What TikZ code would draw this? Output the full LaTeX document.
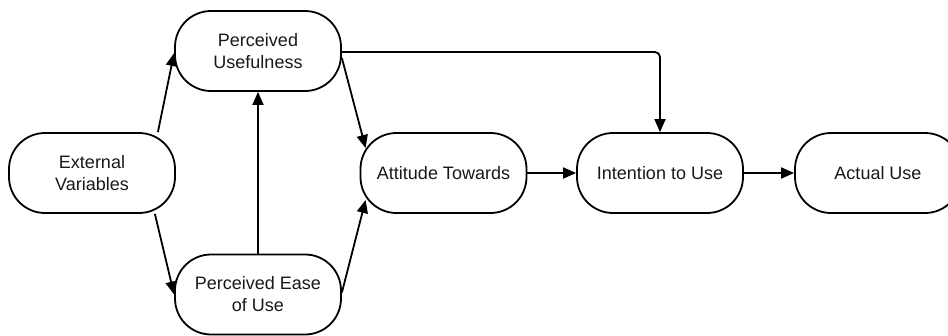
\documentclass[tikz,border=0pt]{standalone}
\usepackage{fontspec}
\setmainfont{Liberation Sans}
\usetikzlibrary{arrows.meta}
\begin{document}
\begin{tikzpicture}[x=1pt,y=-1pt,
  box/.style={draw=black, line width=1.8pt, rounded corners=36pt, minimum width=166pt, minimum height=80pt,
    align=center, inner sep=0pt, font=\fontsize{18}{22}\selectfont, text=black!90},
  arr/.style={draw=black, line width=1.8pt, -{Triangle[length=13pt,width=11pt]}}]
\clip (0,0) rectangle (948,335);
\fill[white] (0,0) rectangle (948,335);
\node[box] (ev) at (92,173) {External\\Variables};
\node[box] (pu) at (258,51) {Perceived\\Usefulness};
\node[box] (peou) at (258,294.5) {Perceived Ease\\of Use};
\node[box] (at) at (443.5,173) {Attitude Towards};
\node[box] (iu) at (660,173) {Intention to Use};
\node[box] (au) at (878,173) {Actual Use};
\draw[arr] ([xshift=-18pt]ev.north east) -- ([yshift=-2pt]pu.west);
\draw[arr] ([xshift=-21pt]ev.south east) -- (peou.west);
\draw[arr] (peou.north) -- (pu.south);
\draw[arr] ([yshift=-7pt]pu.east) -- ([xshift=6pt,yshift=25pt]at.west);
\draw[arr] ([yshift=2pt]peou.east) -- ([xshift=6pt,yshift=-27pt]at.west);
\draw[arr] (at.east) -- (iu.west);
\draw[arr] (iu.east) -- (au.west);
\draw[arr, rounded corners=5pt] ([yshift=-1pt]pu.east) -| (iu.north);
\end{tikzpicture}
\end{document}
